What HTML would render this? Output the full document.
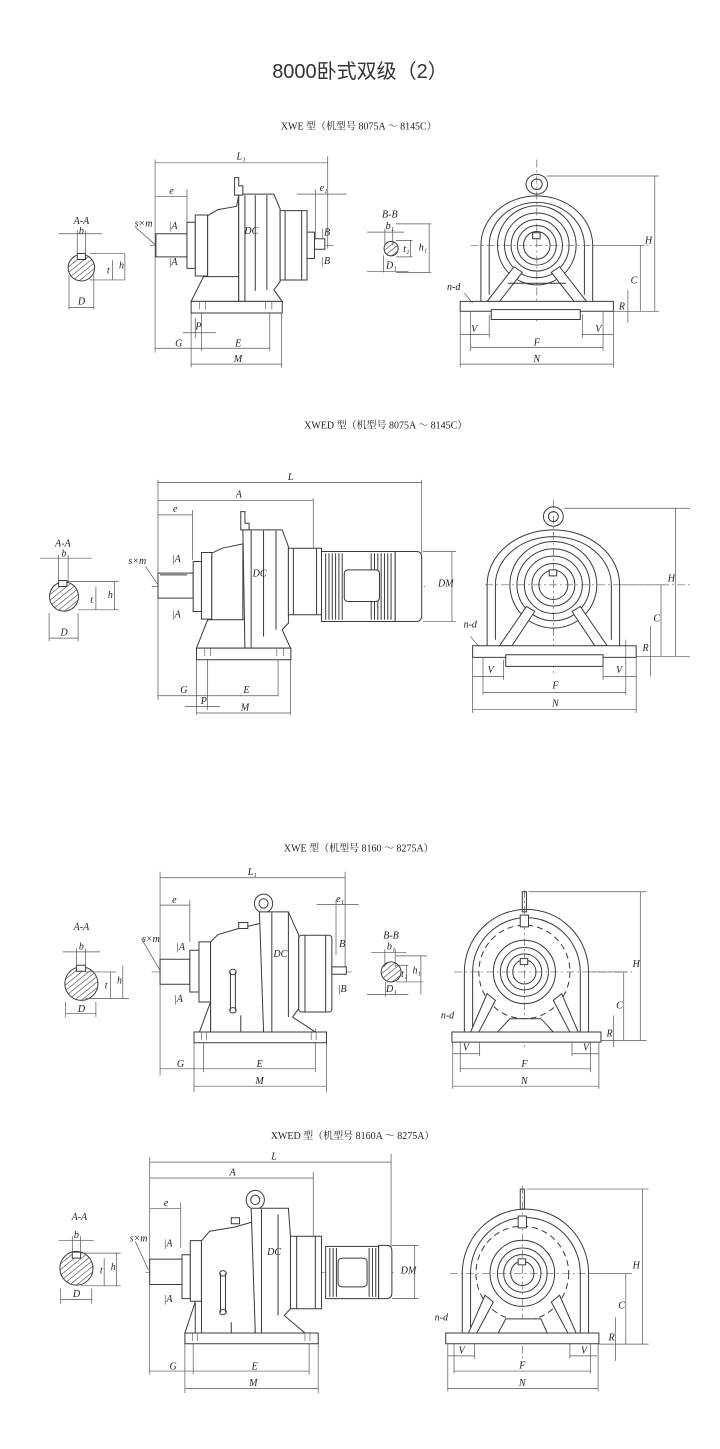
<!DOCTYPE html>
<html><head><meta charset="utf-8"><style>
html,body{margin:0;padding:0;background:#fff;}
svg{display:block}
.s{fill:none;stroke:#3a3a3a;stroke-width:1;vector-effect:non-scaling-stroke}
.w{fill:#fff;stroke:#3a3a3a;stroke-width:1;vector-effect:non-scaling-stroke}
.d{fill:none;stroke:#555;stroke-width:0.7;vector-effect:non-scaling-stroke}
.c{fill:none;stroke:#666;stroke-width:0.7;stroke-dasharray:8 3 2 3;vector-effect:non-scaling-stroke}
.h{fill:url(#hat);stroke:#3a3a3a;stroke-width:1;vector-effect:non-scaling-stroke}
.t{font-family:"Liberation Serif",serif;font-style:italic;font-size:10px;fill:#222;transform-box:fill-box;transform-origin:center;transform:scale(2.415,3.03);text-anchor:middle}
.tt{font-family:"Liberation Serif","Noto Serif CJK SC",serif;font-size:10px;fill:#222;transform-box:fill-box;transform-origin:center;transform:scale(2.415,3.03);text-anchor:middle}
</style></head><body>
<svg width="720" height="1449" viewBox="0 0 720 1449" xmlns="http://www.w3.org/2000/svg">
<defs>
<pattern id="hat" patternUnits="userSpaceOnUse" width="12" height="12" patternTransform="rotate(45)"><line x1="0" y1="0" x2="0" y2="12" stroke="#333" stroke-width="3"/></pattern>
</defs>
<text x="360" y="78" text-anchor="middle" font-family="'Liberation Sans','Noto Sans CJK SC',sans-serif" font-size="20" fill="#333">8000卧式双级（2）</text>

<!-- SECTION 1 -->
<g transform="translate(40,110) scale(0.414,0.33)">
<text class="tt" x="770" y="52">XWE 型（机型号 8075A ～ 8145C）</text>
<!-- A-A -->
<ellipse class="h" cx="100" cy="478" rx="32" ry="40"/>
<rect class="w" x="90" y="435" width="20" height="18"/>
<path class="d" d="M45 375H150M90 365V440M110 365V440M120 435H205M120 515H205M175 455V515M205 435V515M70 500V605M130 500V605M70 598H130"/>
<text class="t" x="100" y="340">A-A</text><text class="t" x="100" y="370">b</text><text class="t" x="165" y="490">t</text><text class="t" x="197" y="475">h</text><text class="t" x="100" y="585">D</text>
<!-- side view -->
<path class="c" d="M265 410H710"/>
<path class="d" d="M278 150V735M695 140V420M278 160H695M278 262H355M355 240V380M620 255H740M665 240V400M278 722H555M365 615V780M583 615V780M555 600V730M390 600V730M375 630V690M365 770H583M345 675H425"/>
<path class="d" d="M230 355L280 410"/>
<rect class="w" x="280" y="375" width="75" height="70"/>
<rect class="w" x="355" y="340" width="20" height="140"/>
<rect class="w" x="375" y="318" width="30" height="185"/>
<path class="w" d="M405 320L430 302L475 292L480 258H480V560H405Z"/>
<path class="w" d="M365 580L395 505H480V580Z"/>
<path class="w" d="M480 255H565L580 300V520L565 545L585 580H480Z"/>
<path class="s" d="M495 258V580M520 258V548M548 258V545"/>
<path class="w" d="M470 205H480V230H490V258H470Z"/>
<rect class="w" x="580" y="305" width="65" height="210"/>
<path class="s" d="M592 305V515M632 305V515"/>
<rect class="w" x="645" y="370" width="18" height="80"/>
<rect class="w" x="663" y="390" width="25" height="32"/>
<rect class="w" x="365" y="580" width="220" height="35"/>
<path class="c" d="M385 580V615M400 580V615M545 580V615M560 580V615"/>
<text class="t" x="485" y="145">L₁</text><text class="t" x="318" y="250">e</text><text class="t" x="685" y="240">e₁</text>
<text class="t" x="250" y="348">s×m</text><text class="t" x="322" y="355">|A</text><text class="t" x="322" y="465">|A</text>
<text class="t" x="690" y="375">|B</text><text class="t" x="690" y="462">|B</text><text class="t" x="510" y="370">DC</text>
<text class="t" x="382" y="660">P</text><text class="t" x="335" y="712">G</text><text class="t" x="478" y="712">E</text><text class="t" x="478" y="758">M</text>
<!-- B-B -->
<ellipse class="h" cx="848" cy="420" rx="17" ry="22"/>
<path class="d" d="M790 370H880M833 360V410M852 360V410M860 395H900M860 445H900M895 395V445M860 345H945M860 492H945M940 345V492M830 440V492M790 490H890"/>
<text class="t" x="845" y="320">B-B</text><text class="t" x="845" y="355">b₁</text><text class="t" x="885" y="425">t₁</text><text class="t" x="925" y="420">h₁</text><text class="t" x="848" y="475">D₁</text>
<!-- front -->
<path class="c" d="M1200 150V640M1040 410H1470"/>
<ellipse class="s" cx="1200" cy="225" rx="26" ry="30"/><ellipse class="s" cx="1200" cy="225" rx="13" ry="16"/>
<path class="s" d="M1065 580V410A135 150 0 0 1 1335 410V580"/>
<path class="s" d="M1085 560V410A115 130 0 0 1 1315 410V560"/>
<ellipse class="s" cx="1200" cy="410" rx="95" ry="120"/>
<ellipse class="s" cx="1200" cy="410" rx="78" ry="98"/>
<ellipse class="s" cx="1200" cy="410" rx="62" ry="78"/>
<ellipse class="s" cx="1200" cy="410" rx="47" ry="60"/>
<ellipse class="s" cx="1200" cy="410" rx="32" ry="42"/>
<rect class="w" x="1190" y="372" width="18" height="18"/>
<path class="w" d="M1145 475L1165 492L1110 580H1080Z"/><path class="w" d="M1255 475L1235 492L1290 580H1320Z"/>
<path class="s" d="M1130 525H1270"/>
<rect class="w" x="1015" y="580" width="370" height="30"/>
<rect class="w" x="1090" y="605" width="215" height="30"/>
<path class="d" d="M1225 200H1495M1485 200V610M1335 410H1460M1450 410V610M1385 610H1495M1420 545V645M1015 610V780M1385 610V780M1085 620V690M1310 620V690M1015 680H1085M1310 680H1385M1040 610V730M1360 610V730M1040 720H1360M1015 770H1385M1025 555L1045 585"/>
<text class="t" x="1000" y="540">n-d</text><text class="t" x="1050" y="668">V</text><text class="t" x="1350" y="668">V</text><text class="t" x="1200" y="708">F</text><text class="t" x="1200" y="758">N</text>
<text class="t" x="1470" y="400">H</text><text class="t" x="1435" y="520">C</text><text class="t" x="1405" y="600">R</text>
</g>

<!-- SECTION 2 -->
<g transform="translate(40,410) scale(0.414,0.333)">
<text class="tt" x="835" y="48">XWED 型（机型号 8075A ～ 8145C）</text>
<ellipse class="h" cx="58" cy="560" rx="35" ry="44"/>
<rect class="w" x="45" y="512" width="20" height="18"/>
<path class="d" d="M0 445H125M45 435V520M68 435V520M65 515H190M92 600H190M135 530V600M180 515V600M22 610V695M92 610V695M22 685H92"/>
<text class="t" x="55" y="405">A-A</text><text class="t" x="58" y="435">b</text><text class="t" x="125" y="575">t</text><text class="t" x="170" y="560">h</text><text class="t" x="58" y="672">D</text>
<path class="c" d="M270 530H930"/>
<path class="d" d="M285 210V870M660 265V415M922 210V430M285 218H922M285 272H660M285 315H368M368 300V450M285 858H575M405 700V900M575 700V860M378 750V915M605 750V915M350 890H435M378 910H605M925 425H1005M925 635H1005M995 425V635M255 470L285 525"/>
<rect class="w" x="285" y="490" width="85" height="75"/>
<path class="s" d="M290 495H355"/>
<rect class="w" x="370" y="455" width="20" height="150"/>
<rect class="w" x="390" y="428" width="25" height="200"/>
<path class="w" d="M415 430L440 415L490 402V715H415Z"/>
<path class="w" d="M378 715L405 630H495V715Z"/>
<path class="w" d="M490 360H585L600 410V640L585 660L605 715H495Z"/>
<path class="s" d="M510 362V715M540 362V680M570 362V660"/>
<path class="w" d="M485 305H495V340H505V360H485Z"/>
<rect class="w" x="600" y="415" width="80" height="200"/>
<path class="s" d="M612 415V615M668 415V615"/>
<rect class="w" x="680" y="425" width="178" height="210"/>
<path class="s" d="M690 430V630M698 430V630M706 430V630M714 430V630M722 430V630M730 430V630M800 430V630M808 430V630M816 430V630M824 430V630M832 430V630M840 430V630M848 430V630"/>
<rect class="w" x="735" y="480" width="85" height="95" rx="10"/>
<path class="w" d="M858 425H910Q922 425 922 445V615Q922 635 910 635H858Z"/>
<rect class="w" x="378" y="715" width="228" height="35"/>
<path class="c" d="M398 715V750M412 715V750M572 715V750M588 715V750"/>
<text class="t" x="605" y="205">L</text><text class="t" x="480" y="258">A</text><text class="t" x="327" y="302">e</text>
<text class="t" x="235" y="458">s×m</text><text class="t" x="330" y="452">|A</text><text class="t" x="330" y="618">|A</text><text class="t" x="530" y="495">DC</text><text class="t" x="980" y="525">DM</text>
<text class="t" x="348" y="845">G</text><text class="t" x="498" y="845">E</text><text class="t" x="395" y="878">P</text><text class="t" x="495" y="898">M</text>
<path class="c" d="M1240 270V790M1075 525H1570"/>
<ellipse class="s" cx="1240" cy="320" rx="24" ry="29"/><ellipse class="s" cx="1240" cy="320" rx="12" ry="15"/>
<path class="s" d="M1080 708V525A160 165 0 0 1 1400 525V708"/>
<path class="s" d="M1100 690V525A140 145 0 0 1 1380 525V690"/>
<ellipse class="s" cx="1240" cy="525" rx="105" ry="130"/>
<ellipse class="s" cx="1240" cy="525" rx="88" ry="108"/>
<ellipse class="s" cx="1240" cy="525" rx="70" ry="86"/>
<ellipse class="s" cx="1240" cy="525" rx="52" ry="64"/>
<ellipse class="s" cx="1240" cy="525" rx="35" ry="44"/>
<rect class="w" x="1230" y="480" width="18" height="18"/>
<path class="w" d="M1175 590L1195 605L1140 708H1110Z"/><path class="w" d="M1305 590L1285 605L1340 708H1370Z"/>
<rect class="w" x="1045" y="708" width="395" height="35"/>
<rect class="w" x="1125" y="735" width="235" height="35"/>
<path class="d" d="M1265 295H1570M1535 295V740M1400 525H1510M1500 525V740M1440 740H1570M1475 648V800M1045 743V910M1440 743V910M1120 750V810M1360 750V810M1045 800H1120M1360 800H1440M1070 743V855M1415 690V855M1070 848H1415M1045 900H1440M1040 680L1060 710"/>
<text class="t" x="1040" y="648">n-d</text><text class="t" x="1090" y="785">V</text><text class="t" x="1400" y="785">V</text><text class="t" x="1245" y="832">F</text><text class="t" x="1245" y="885">N</text>
<text class="t" x="1525" y="510">H</text><text class="t" x="1490" y="630">C</text><text class="t" x="1462" y="718">R</text>
</g>

<!-- SECTION 3 -->
<g transform="translate(40,835) scale(0.414,0.334)">
<text class="tt" x="770" y="42">XWE 型（机型号 8160 ～ 8275A）</text>
<ellipse class="h" cx="100" cy="445" rx="40" ry="50"/>
<rect class="w" x="88" y="390" width="22" height="18"/>
<path class="d" d="M55 350H145M88 340V400M110 340V400M110 410H185M110 490H215M170 410V490M200 390V490M62 500V545M135 500V545M62 535H135"/>
<text class="t" x="100" y="280">A-A</text><text class="t" x="100" y="338">b</text><text class="t" x="160" y="455">t</text><text class="t" x="192" y="440">h</text><text class="t" x="100" y="525">D</text>
<path class="c" d="M270 410H760"/>
<path class="d" d="M290 110V720M737 110V420M290 128H737M290 210H362M362 195V320M668 208H770M715 195V360M290 700H665M395 600V710M665 580V710M372 620V770M692 620V770M372 752H692M245 310L290 405"/>
<rect class="w" x="290" y="372" width="72" height="75"/>
<rect class="w" x="362" y="345" width="22" height="125"/>
<rect class="w" x="384" y="320" width="28" height="180"/>
<path class="w" d="M412 320L430 298L480 280L540 262V590H412Z"/>
<path class="w" d="M385 590L412 500V590Z"/>
<rect class="w" x="480" y="262" width="22" height="18"/>
<ellipse class="s" cx="540" cy="205" rx="22" ry="28"/><ellipse class="s" cx="540" cy="205" rx="11" ry="14"/>
<path class="w" d="M530 230H600L625 300V520L610 545L665 590H540Z"/>
<path class="s" d="M560 232V590M600 232V545M485 540V590H540"/>
<rect class="w" x="625" y="300" width="80" height="230" rx="8"/>
<path class="s" d="M640 300V530M690 300V530"/>
<rect class="w" x="705" y="395" width="35" height="22"/>
<path class="s" d="M460 410V525M472 410V525"/><circle class="s" cx="466" cy="410" r="8"/><circle class="s" cx="466" cy="525" r="8"/>
<rect class="w" x="372" y="590" width="320" height="32"/>
<path class="c" d="M390 590V622M402 590V622M655 590V622M667 590V622"/>
<text class="t" x="512" y="115">L₁</text><text class="t" x="325" y="198">e</text><text class="t" x="725" y="195">e₁</text>
<text class="t" x="268" y="315">s×m</text><text class="t" x="340" y="340">|A</text><text class="t" x="335" y="495">|A</text>
<text class="t" x="730" y="330">B</text><text class="t" x="730" y="465">|B</text><text class="t" x="580" y="360">DC</text>
<text class="t" x="340" y="690">G</text><text class="t" x="530" y="690">E</text><text class="t" x="530" y="740">M</text>
<ellipse class="h" cx="848" cy="410" rx="24" ry="30"/>
<path class="d" d="M800 352H885M833 342V395M858 342V395M860 390H890M860 440H925M885 390V440M860 362H935M920 362V478M835 440V485M790 478H890"/>
<text class="t" x="848" y="305">B-B</text><text class="t" x="848" y="338">b₁</text><text class="t" x="880" y="420">t₁</text><text class="t" x="910" y="410">h₁</text><text class="t" x="848" y="465">D₁</text>
<path class="c" d="M1170 165V640M1000 410H1430"/>
<path class="s" d="M1165 170H1175V230H1165Z"/>
<path class="s" d="M1025 590V410A148 185 0 0 1 1325 410V590"/>
<path class="s" d="M1045 590V410A128 160 0 0 1 1305 410V590"/>
<ellipse class="s" cx="1170" cy="410" rx="110" ry="140" stroke-dasharray="6 4"/>
<ellipse class="s" cx="1170" cy="410" rx="75" ry="95"/>
<ellipse class="s" cx="1170" cy="410" rx="58" ry="73"/>
<ellipse class="s" cx="1170" cy="410" rx="42" ry="54"/>
<ellipse class="s" cx="1170" cy="410" rx="28" ry="36"/>
<rect class="w" x="1160" y="370" width="18" height="18"/>
<rect class="w" x="1160" y="240" width="20" height="35"/>
<path class="w" d="M1080 475L1100 495L1060 590H1040Z"/><path class="w" d="M1260 475L1240 495L1280 590H1300Z"/>
<path class="w" d="M1105 590L1135 550H1210L1240 590Z"/>
<rect class="w" x="995" y="590" width="360" height="30"/>
<path class="d" d="M1180 170H1465M1450 170V615M1325 410H1420M1410 410V615M1355 615H1465M1385 540V635M997 620V760M1350 620V760M1062 620V662M1285 620V662M997 655H1062M1285 655H1350M1015 620V710M1330 620V710M1015 700H1330M997 752H1350"/>
<text class="t" x="985" y="545">n-d</text><text class="t" x="1030" y="640">V</text><text class="t" x="1320" y="640">V</text><text class="t" x="1170" y="690">F</text><text class="t" x="1170" y="740">N</text>
<text class="t" x="1440" y="390">H</text><text class="t" x="1400" y="515">C</text><text class="t" x="1375" y="598">R</text>
</g>

<!-- SECTION 4 -->
<g transform="translate(40,1120) scale(0.414,0.337)">
<text class="tt" x="755" y="50">XWED 型（机型号 8160A ～ 8275A）</text>
<ellipse class="h" cx="88" cy="440" rx="40" ry="50"/>
<rect class="w" x="78" y="392" width="20" height="18"/>
<path class="d" d="M45 357H130M78 345V400M98 345V400M98 395H195M98 492H195M155 410V492M185 395V492M50 500V545M125 500V545M50 533H125"/>
<text class="t" x="95" y="292">A-A</text><text class="t" x="88" y="345">b</text><text class="t" x="148" y="450">t</text><text class="t" x="177" y="440">h</text><text class="t" x="88" y="520">D</text>
<path class="c" d="M255 452H860"/>
<path class="d" d="M265 110V755M848 100V380M660 155V360M265 125H848M265 172H660M265 262H340M340 245V380M265 745H650M370 610V755M650 630V755M350 660V810M672 660V810M350 797H672M850 372H915M850 530H915M905 372V530M230 360L262 445"/>
<rect class="w" x="265" y="413" width="78" height="75"/>
<rect class="w" x="343" y="400" width="20" height="130"/>
<rect class="w" x="363" y="358" width="27" height="180"/>
<path class="w" d="M390 358L410 330L470 318L520 300V632H390Z"/>
<path class="w" d="M350 632L375 540V632Z"/>
<rect class="w" x="462" y="290" width="20" height="18"/>
<ellipse class="s" cx="520" cy="237" rx="22" ry="28"/><ellipse class="s" cx="520" cy="237" rx="11" ry="14"/>
<path class="w" d="M510 262H600L605 345V560L590 580L640 632H520Z"/>
<path class="s" d="M535 265V632M575 280V580M462 600V632H520"/>
<rect class="w" x="605" y="345" width="75" height="215"/>
<path class="s" d="M620 345V560M665 345V560"/>
<rect class="w" x="690" y="375" width="128" height="155"/>
<path class="s" d="M700 380V525M708 380V525M716 380V525M795 380V525M803 380V525M811 380V525"/>
<rect class="w" x="720" y="410" width="70" height="85" rx="10"/>
<path class="w" d="M818 372H838Q850 372 850 390V512Q850 530 838 530H818Z"/>
<path class="s" d="M436 455V570M448 455V570"/><circle class="s" cx="442" cy="455" r="8"/><circle class="s" cx="442" cy="570" r="8"/>
<rect class="w" x="350" y="632" width="322" height="32"/>
<path class="c" d="M368 632V664M380 632V664M640 632V664M652 632V664"/>
<text class="t" x="565" y="112">L</text><text class="t" x="465" y="160">A</text><text class="t" x="305" y="250">e</text>
<text class="t" x="238" y="355">s×m</text><text class="t" x="310" y="370">|A</text><text class="t" x="310" y="535">|A</text><text class="t" x="565" y="395">DC</text><text class="t" x="890" y="450">DM</text>
<text class="t" x="322" y="735">G</text><text class="t" x="518" y="735">E</text><text class="t" x="515" y="785">M</text>
<path class="c" d="M1165 195V720M990 455H1430"/>
<path class="s" d="M1160 205H1170V265H1160Z"/>
<path class="s" d="M1020 632V455A152 190 0 0 1 1325 455V632"/>
<path class="s" d="M1040 632V455A132 165 0 0 1 1305 455V632"/>
<ellipse class="s" cx="1165" cy="455" rx="112" ry="140" stroke-dasharray="6 4"/>
<ellipse class="s" cx="1165" cy="455" rx="78" ry="98"/>
<ellipse class="s" cx="1165" cy="455" rx="60" ry="75"/>
<ellipse class="s" cx="1165" cy="455" rx="45" ry="56"/>
<ellipse class="s" cx="1165" cy="455" rx="28" ry="36"/>
<rect class="w" x="1155" y="412" width="18" height="18"/>
<rect class="w" x="1155" y="285" width="20" height="35"/>
<path class="w" d="M1075 520L1095 540L1055 632H1035Z"/><path class="w" d="M1255 520L1235 540L1275 632H1295Z"/>
<path class="w" d="M1095 660L1125 590H1210L1235 660Z"/>
<rect class="w" x="980" y="632" width="370" height="32"/>
<path class="d" d="M1175 205H1470M1455 205V665M1325 455H1425M1415 455V665M1350 665H1470M1390 585V715M985 664V805M1348 664V805M1050 664V708M1280 664V708M985 700H1050M1280 700H1345M1000 664V752M1330 664V752M1000 745H1330M985 797H1348"/>
<text class="t" x="970" y="590">n-d</text><text class="t" x="1020" y="688">V</text><text class="t" x="1315" y="688">V</text><text class="t" x="1165" y="733">F</text><text class="t" x="1165" y="785">N</text>
<text class="t" x="1440" y="435">H</text><text class="t" x="1405" y="555">C</text><text class="t" x="1380" y="650">R</text>
</g>
</svg>
</body></html>
